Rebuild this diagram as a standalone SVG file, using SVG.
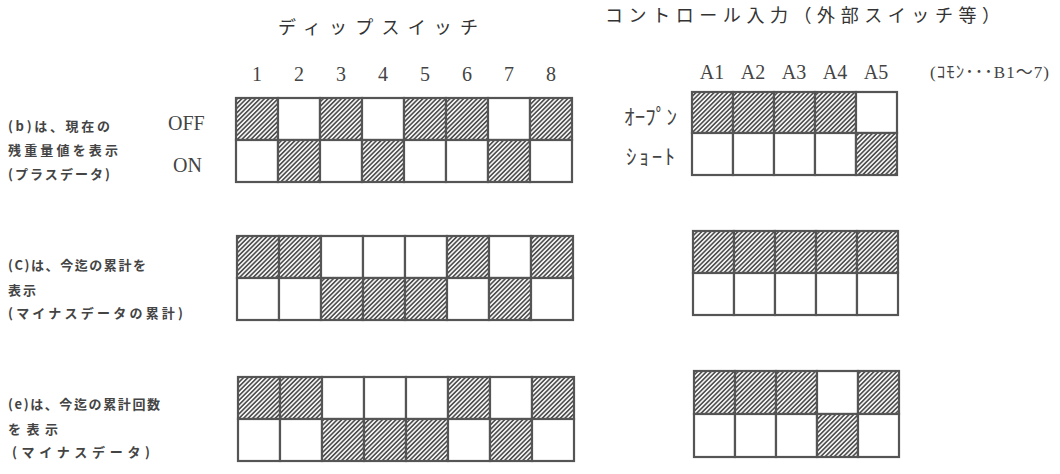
<svg xmlns="http://www.w3.org/2000/svg" width="1060" height="474" viewBox="0 0 1060 474">
<defs>
<pattern id="hatch" patternUnits="userSpaceOnUse" width="3.2" height="3.2" patternTransform="rotate(45)">
<rect width="3.2" height="3.2" fill="#f4f4f4"/>
<line x1="0.8" y1="0" x2="0.8" y2="3.2" stroke="#2a2a2a" stroke-width="1.3"/>
</pattern>
</defs>
<style>
.h{fill:url(#hatch);stroke:#555;stroke-width:2.2}
.w{fill:#fff;stroke:#555;stroke-width:2.2}
.hd{font-family:"Noto Sans CJK JP",sans-serif;font-size:18px;fill:#333}
.num{font-family:"Liberation Serif",serif;font-size:20px;fill:#444}
.lb{font-family:"Noto Sans CJK JP",sans-serif;font-size:13px;font-weight:bold;fill:#444}
.kt{font-family:"Noto Sans CJK JP",sans-serif;font-size:21px;fill:#444}
.cm{font-family:"Liberation Serif","Noto Sans CJK JP",serif;font-size:17px;fill:#444}
</style>
<rect width="1060" height="474" fill="#fff"/>

<g id="headers">
<text class="hd" x="278" y="34" textLength="200">ディップスイッチ</text>
<text class="hd" x="605" y="22" textLength="395">コントロール入力（外部スイッチ等）</text>
</g>

<g id="dip-numbers" class="num" text-anchor="middle">
<text x="257" y="81">1</text>
<text x="299" y="81">2</text>
<text x="341" y="81">3</text>
<text x="383" y="81">4</text>
<text x="425" y="81">5</text>
<text x="467" y="81">6</text>
<text x="509" y="81">7</text>
<text x="551" y="81">8</text>
</g>

<g id="ctl-numbers" class="num" text-anchor="middle">
<text x="712" y="79">A1</text>
<text x="753" y="79">A2</text>
<text x="794" y="79">A3</text>
<text x="835" y="79">A4</text>
<text x="876" y="79">A5</text>
<text class="cm" x="930" y="78" text-anchor="start" textLength="119">(ｺﾓﾝ･･･B1〜7)</text>
</g>

<g id="row-labels">
<text class="num" x="168" y="130">OFF</text>
<text class="num" x="173" y="172">ON</text>
<text class="kt" x="624" y="124" textLength="53">ｵｰﾌﾟﾝ</text>
<text class="kt" x="626" y="164" textLength="49">ｼｮｰﾄ</text>
</g>

<g id="label-b" class="lb">
<text x="8" y="131" textLength="102">(b)は、現在の</text>
<text x="8" y="155" textLength="110">残重量値を表示</text>
<text x="8" y="179" textLength="102">(プラスデータ)</text>
</g>
<g id="label-c" class="lb">
<text x="8" y="270" textLength="138">(C)は、今迄の累計を</text>
<text x="8" y="295" textLength="28">表示</text>
<text x="8" y="318" textLength="175">(マイナスデータの累計)</text>
</g>
<g id="label-e" class="lb">
<text x="8" y="409" textLength="152">(e)は、今迄の累計回数</text>
<text x="8" y="434" textLength="50">を表示</text>
<text x="12" y="457" textLength="138">(マイナスデータ)</text>
</g>

<g id="dip1">
<rect class="h" x="236" y="98" width="42" height="42"/>
<rect class="w" x="278" y="98" width="42" height="42"/>
<rect class="h" x="320" y="98" width="42" height="42"/>
<rect class="w" x="362" y="98" width="42" height="42"/>
<rect class="h" x="404" y="98" width="42" height="42"/>
<rect class="h" x="446" y="98" width="42" height="42"/>
<rect class="w" x="488" y="98" width="42" height="42"/>
<rect class="h" x="530" y="98" width="42" height="42"/>
<rect class="w" x="236" y="140" width="42" height="42"/>
<rect class="h" x="278" y="140" width="42" height="42"/>
<rect class="w" x="320" y="140" width="42" height="42"/>
<rect class="h" x="362" y="140" width="42" height="42"/>
<rect class="w" x="404" y="140" width="42" height="42"/>
<rect class="w" x="446" y="140" width="42" height="42"/>
<rect class="h" x="488" y="140" width="42" height="42"/>
<rect class="w" x="530" y="140" width="42" height="42"/>
</g>

<g id="dip2">
<rect class="h" x="237" y="236" width="42" height="42"/>
<rect class="h" x="279" y="236" width="42" height="42"/>
<rect class="w" x="321" y="236" width="42" height="42"/>
<rect class="w" x="363" y="236" width="42" height="42"/>
<rect class="w" x="405" y="236" width="42" height="42"/>
<rect class="h" x="447" y="236" width="42" height="42"/>
<rect class="w" x="489" y="236" width="42" height="42"/>
<rect class="h" x="531" y="236" width="42" height="42"/>
<rect class="w" x="237" y="278" width="42" height="42"/>
<rect class="w" x="279" y="278" width="42" height="42"/>
<rect class="h" x="321" y="278" width="42" height="42"/>
<rect class="h" x="363" y="278" width="42" height="42"/>
<rect class="h" x="405" y="278" width="42" height="42"/>
<rect class="w" x="447" y="278" width="42" height="42"/>
<rect class="h" x="489" y="278" width="42" height="42"/>
<rect class="w" x="531" y="278" width="42" height="42"/>
</g>

<g id="dip3">
<rect class="h" x="238" y="377" width="42" height="42"/>
<rect class="h" x="280" y="377" width="42" height="42"/>
<rect class="w" x="322" y="377" width="42" height="42"/>
<rect class="w" x="364" y="377" width="42" height="42"/>
<rect class="w" x="406" y="377" width="42" height="42"/>
<rect class="h" x="448" y="377" width="42" height="42"/>
<rect class="w" x="490" y="377" width="42" height="42"/>
<rect class="h" x="532" y="377" width="42" height="42"/>
<rect class="w" x="238" y="419" width="42" height="42"/>
<rect class="w" x="280" y="419" width="42" height="42"/>
<rect class="h" x="322" y="419" width="42" height="42"/>
<rect class="h" x="364" y="419" width="42" height="42"/>
<rect class="h" x="406" y="419" width="42" height="42"/>
<rect class="w" x="448" y="419" width="42" height="42"/>
<rect class="h" x="490" y="419" width="42" height="42"/>
<rect class="w" x="532" y="419" width="42" height="42"/>
</g>

<g id="ctl1">
<rect class="h" x="692" y="92" width="41" height="41"/>
<rect class="h" x="733" y="92" width="41" height="41"/>
<rect class="h" x="774" y="92" width="41" height="41"/>
<rect class="h" x="815" y="92" width="41" height="41"/>
<rect class="w" x="856" y="92" width="41" height="41"/>
<rect class="w" x="692" y="133" width="41" height="42"/>
<rect class="w" x="733" y="133" width="41" height="42"/>
<rect class="w" x="774" y="133" width="41" height="42"/>
<rect class="w" x="815" y="133" width="41" height="42"/>
<rect class="h" x="856" y="133" width="41" height="42"/>
</g>

<g id="ctl2">
<rect class="h" x="693" y="231" width="41" height="42"/>
<rect class="h" x="734" y="231" width="41" height="42"/>
<rect class="h" x="775" y="231" width="41" height="42"/>
<rect class="h" x="816" y="231" width="41" height="42"/>
<rect class="h" x="857" y="231" width="41" height="42"/>
<rect class="w" x="693" y="273" width="41" height="42"/>
<rect class="w" x="734" y="273" width="41" height="42"/>
<rect class="w" x="775" y="273" width="41" height="42"/>
<rect class="w" x="816" y="273" width="41" height="42"/>
<rect class="w" x="857" y="273" width="41" height="42"/>
</g>

<g id="ctl3">
<rect class="h" x="694" y="371" width="41" height="43"/>
<rect class="h" x="735" y="371" width="41" height="43"/>
<rect class="h" x="776" y="371" width="41" height="43"/>
<rect class="w" x="817" y="371" width="41" height="43"/>
<rect class="h" x="858" y="371" width="41" height="43"/>
<rect class="w" x="694" y="414" width="41" height="43"/>
<rect class="w" x="735" y="414" width="41" height="43"/>
<rect class="w" x="776" y="414" width="41" height="43"/>
<rect class="h" x="817" y="414" width="41" height="43"/>
<rect class="w" x="858" y="414" width="41" height="43"/>
</g>
</svg>
